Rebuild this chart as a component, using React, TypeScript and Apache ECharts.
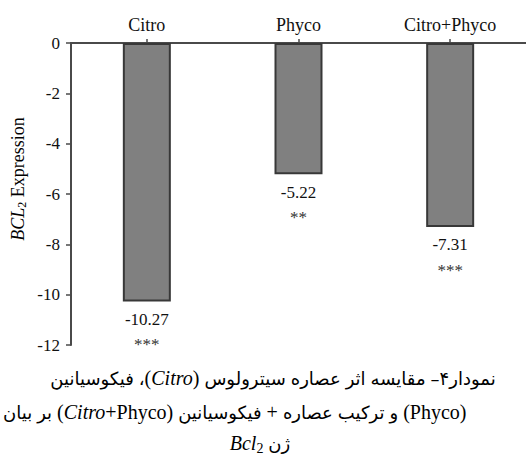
import React, { useEffect, useRef } from 'react';
import * as echarts from 'echarts';

const categories = ['Citro', 'Phyco', 'Citro+Phyco'];
const values = [-10.27, -5.22, -7.31];
const significance = ['***', '**', '***'];
const yMin = -12;
const yMax = 0;
const yStep = 2;

// Caption pieces, listed in visual (left-to-right) order of the right-to-left Persian lines.
type Tok = [string, string];
const SP: Tok = ['sp', ' '];
const caption1: Tok[] = [
  ['p', 'فیکوسیانین'], SP, ['p', '،'], ['l', '('], ['i', 'Citro'], ['l', ')'], SP, ['p', 'سیترولوس'], SP,
  ['p', 'عصاره'], SP, ['p', 'اثر'], SP, ['p', 'مقایسه'], SP, ['p', '–۴'], ['p', 'نمودار'],
];
const caption2: Tok[] = [
  ['p', 'بیان'], SP, ['p', 'بر'], SP, ['l', '('], ['i', 'Citro'], ['l', '+Phyco)'], SP, ['p', 'فیکوسیانین'], SP,
  ['l', '+'], SP, ['p', 'عصاره'], SP, ['p', 'ترکیب'], SP, ['p', 'و'], SP, ['l', '(Phyco)'],
];
const caption3: Tok[] = [['i', 'Bcl'], ['sub', '2'], SP, ['p', 'ژن']];

const SERIF = "'Liberation Serif', 'Times New Roman', serif";
const FA = "'DejaVu Sans', sans-serif";

const toRich = (toks: Tok[]) => toks.map(([s, t]) => `{${s}|${t}}`).join('');

const captionRich = {
  p: { fontFamily: FA, fontSize: 18, color: '#111', lineHeight: 30 },
  l: { fontFamily: SERIF, fontSize: 20, color: '#111', lineHeight: 30 },
  i: { fontFamily: SERIF, fontSize: 20, fontStyle: 'italic', color: '#111', lineHeight: 30 },
  sp: { fontFamily: SERIF, fontSize: 20, lineHeight: 30 },
  sub: { fontFamily: SERIF, fontSize: 14, color: '#111', lineHeight: 30, padding: [10, 0, 0, 0] },
};

export default function App() {
  const ref = useRef<HTMLDivElement>(null);
  useEffect(() => {
    if (!ref.current) return;
    const chart = echarts.init(ref.current, undefined, { renderer: 'svg' });
    chart.setOption({
      animation: false,
      backgroundColor: '#fff',
      grid: { left: 71, right: 0, top: 43, bottom: 117, containLabel: false },
      xAxis: {
        type: 'category',
        position: 'top',
        data: categories,
        axisLine: { show: true, lineStyle: { color: '#4a4a4a', width: 2 } },
        axisTick: { show: true, alignWithLabel: true, length: 4, lineStyle: { color: '#4a4a4a', width: 1.5 } },
        axisLabel: { fontFamily: SERIF, fontSize: 18, color: '#111', margin: 9 },
        splitLine: { show: false },
      },
      yAxis: {
        type: 'value',
        min: yMin,
        max: yMax,
        interval: yStep,
        axisLine: { show: true, lineStyle: { color: '#4a4a4a', width: 2 } },
        axisTick: { show: true, length: 5, lineStyle: { color: '#4a4a4a', width: 1.5 } },
        axisLabel: { fontFamily: SERIF, fontSize: 17, color: '#111', margin: 11 },
        splitLine: { show: false },
      },
      series: [
        {
          type: 'bar',
          data: values,
          barWidth: 48,
          itemStyle: { color: '#808080', borderColor: '#383838', borderWidth: 2 },
          label: {
            show: true,
            position: 'bottom',
            distance: 6,
            align: 'center',
            formatter: (p: any) => `{v|${Number(p.value).toFixed(2)}}\n{s|${significance[p.dataIndex]}}`,
            rich: {
              v: { fontFamily: SERIF, fontSize: 17, color: '#111', lineHeight: 24 },
              s: { fontFamily: SERIF, fontSize: 17, color: '#333', lineHeight: 27 },
            },
          },
        },
      ],
      graphic: [
        {
          type: 'text',
          x: 18,
          y: 179,
          rotation: Math.PI / 2,
          style: {
            text: '{i|BCL}{sub|2}{n| Expression}',
            align: 'center',
            verticalAlign: 'middle',
            rich: {
              i: { fontFamily: SERIF, fontSize: 18, fontStyle: 'italic', color: '#111', lineHeight: 22 },
              sub: { fontFamily: SERIF, fontSize: 12, color: '#111', lineHeight: 22, padding: [8, 0, 0, 0] },
              n: { fontFamily: SERIF, fontSize: 18, color: '#111', lineHeight: 22 },
            },
          },
        },
        {
          type: 'text',
          x: 273,
          y: 378,
          style: { text: toRich(caption1), align: 'center', verticalAlign: 'middle', rich: captionRich },
        },
        {
          type: 'text',
          x: 3,
          y: 412,
          style: { text: toRich(caption2), align: 'left', verticalAlign: 'middle', rich: captionRich },
        },
        {
          type: 'text',
          x: 260,
          y: 443,
          style: { text: toRich(caption3), align: 'center', verticalAlign: 'middle', rich: captionRich },
        },
      ],
    });
    return () => chart.dispose();
  }, []);
  return <div ref={ref} style={{ position: 'fixed', left: 0, top: 0, width: 526, height: 462 }} />;
}
